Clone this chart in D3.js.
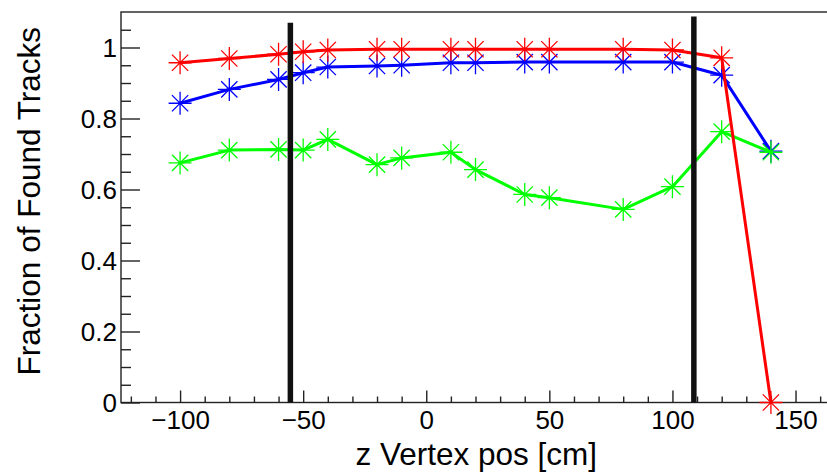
<!DOCTYPE html>
<html>
<head>
<meta charset="utf-8">
<script src="https://cdn.jsdelivr.net/npm/d3@7"></script>
<style>
  html, body { margin: 0; padding: 0; background: #fff; }
  svg { display: block; }
  text { font-family: "Liberation Sans", Arial, Helvetica, sans-serif; fill: #000; }
</style>
</head>
<body>
<svg id="chart" width="827" height="472"></svg>
<script>
// z vertex positions (cm) at which the track finding efficiency was measured
const zPos = [-100, -80, -60, -50, -40, -20, -10, 10, 20, 40, 50, 80, 100, 120, 140];

// fraction of found tracks per vertex position, one array per selection
const fracRed   = [0.957, 0.969, 0.981, 0.988, 0.993, 0.995, 0.995, 0.995, 0.995, 0.995, 0.995, 0.995, 0.993, 0.971, 0.0];
const fracBlue  = [0.843, 0.882, 0.910, 0.929, 0.945, 0.948, 0.950, 0.957, 0.957, 0.959, 0.959, 0.959, 0.959, 0.922, 0.708];
const fracGreen = [0.675, 0.711, 0.713, 0.711, 0.741, 0.670, 0.689, 0.705, 0.656, 0.586, 0.577, 0.544, 0.608, 0.763, 0.705];

// drawing order: blue first, then green, red on top
const seriesNames  = ["blue", "green", "red"];
const seriesValues = [fracBlue, fracGreen, fracRed];
const seriesColors = ["#0000ff", "#00ff00", "#ff0000"];

// acceptance boundaries (vertical markers): z position and top height
const boundZ   = [-55.2, 108.7];
const boundTop = [1.07, 1.087];

// axis settings
const xDomain = [-124, 164];
const yDomain = [0, 1.1];
const xMajor = [-100, -50, 0, 50, 100, 150];
const yMajor = [0, 0.2, 0.4, 0.6, 0.8, 1];
const yLabels = ["0", "0.2", "0.4", "0.6", "0.8", "1"];
const xTitle = "z Vertex pos [cm]";
const yTitle = "Fraction of Found Tracks";

const svg = d3.select("#chart");
const frame = { left: 121, right: 830, top: 12, bottom: 402.5 };

const x = d3.scaleLinear().domain(xDomain).range([frame.left, frame.right]);
const y = d3.scaleLinear().domain(yDomain).range([frame.bottom, frame.top]);

// frame
svg.append("rect")
  .attr("x", frame.left).attr("y", frame.top)
  .attr("width", frame.right - frame.left)
  .attr("height", frame.bottom - frame.top)
  .attr("fill", "none").attr("stroke", "#222").attr("stroke-width", 1.4);

// x axis: major ticks with labels, minor ticks every 10 cm
const xMinor = d3.range(-120, 161, 10).filter(v => !xMajor.includes(v));
const xAxisMajor = d3.axisBottom(x).tickValues(xMajor).tickSize(-12).tickSizeOuter(0)
  .tickFormat(d => d < 0 ? "\u2212" + Math.abs(d) : String(d));
const xAxisMinor = d3.axisBottom(x).tickValues(xMinor).tickSize(-6).tickSizeOuter(0).tickFormat("");

const gxMinor = svg.append("g").attr("transform", `translate(0,${frame.bottom})`).call(xAxisMinor);
const gx = svg.append("g").attr("transform", `translate(0,${frame.bottom})`).call(xAxisMajor);
[gx, gxMinor].forEach(g => {
  g.select(".domain").remove();
  g.selectAll(".tick line").attr("stroke", "#222").attr("stroke-width", 1.4);
});
gx.selectAll(".tick text")
  .attr("y", 26).attr("dy", 0)
  .style("font-size", "26px")
  .style("font-family", "'Liberation Sans', Arial, sans-serif")
  .attr("fill", "#000");

// y axis: major ticks with labels, minor ticks every 0.05
const yMinor = d3.range(0.05, 1.1, 0.05).map(v => +v.toFixed(2)).filter(v => !yMajor.some(m => Math.abs(m - v) < 1e-6));
const yAxisMajor = d3.axisLeft(y).tickValues(yMajor).tickSize(-19).tickSizeOuter(0)
  .tickFormat((d, i) => yLabels[i]);
const yAxisMinor = d3.axisLeft(y).tickValues(yMinor).tickSize(-10).tickSizeOuter(0).tickFormat("");

const gyMinor = svg.append("g").attr("transform", `translate(${frame.left},0)`).call(yAxisMinor);
const gy = svg.append("g").attr("transform", `translate(${frame.left},0)`).call(yAxisMajor);
[gy, gyMinor].forEach(g => {
  g.select(".domain").remove();
  g.selectAll(".tick line").attr("stroke", "#222").attr("stroke-width", 1.4);
});
gy.selectAll(".tick text")
  .attr("x", -4).attr("dy", "0.36em")
  .style("font-size", "26px")
  .style("font-family", "'Liberation Sans', Arial, sans-serif")
  .attr("fill", "#000");

// axis titles
svg.append("text")
  .attr("x", 597).attr("y", 465)
  .attr("text-anchor", "end")
  .style("font-size", "31.5px")
  .text(xTitle);

svg.append("text")
  .attr("transform", "translate(40,27) rotate(-90)")
  .attr("text-anchor", "end")
  .style("font-size", "31.5px")
  .text(yTitle);

// data series: polyline plus asterisk markers
const line = d3.line().x(d => x(d[0])).y(d => y(d[1]));
const R = 11.5;
const asterisk = `M${-R},0L${R},0M0,${-R}L0,${R}` +
  `M${-R * 0.707},${-R * 0.707}L${R * 0.707},${R * 0.707}` +
  `M${-R * 0.707},${R * 0.707}L${R * 0.707},${-R * 0.707}`;

seriesValues.forEach((vals, si) => {
  const pts = zPos.map((z, i) => [z, vals[i]]);
  const g = svg.append("g").attr("class", "series-" + seriesNames[si]);
  g.append("path")
    .attr("d", line(pts))
    .attr("fill", "none")
    .attr("stroke", seriesColors[si])
    .attr("stroke-width", 3)
    .attr("stroke-linejoin", "round");
  g.selectAll("path.marker")
    .data(pts)
    .join("path")
    .attr("class", "marker")
    .attr("transform", d => `translate(${x(d[0])},${y(d[1])})`)
    .attr("d", asterisk)
    .attr("stroke", seriesColors[si])
    .attr("stroke-width", 1.3)
    .attr("fill", "none");
});

// acceptance boundaries
svg.selectAll("line.bound")
  .data(boundZ)
  .join("line")
  .attr("class", "bound")
  .attr("x1", d => x(d)).attr("x2", d => x(d))
  .attr("y1", y(0))
  .attr("y2", (d, i) => y(boundTop[i]))
  .attr("stroke", "#111")
  .attr("stroke-width", 5.5);
</script>
</body>
</html>
